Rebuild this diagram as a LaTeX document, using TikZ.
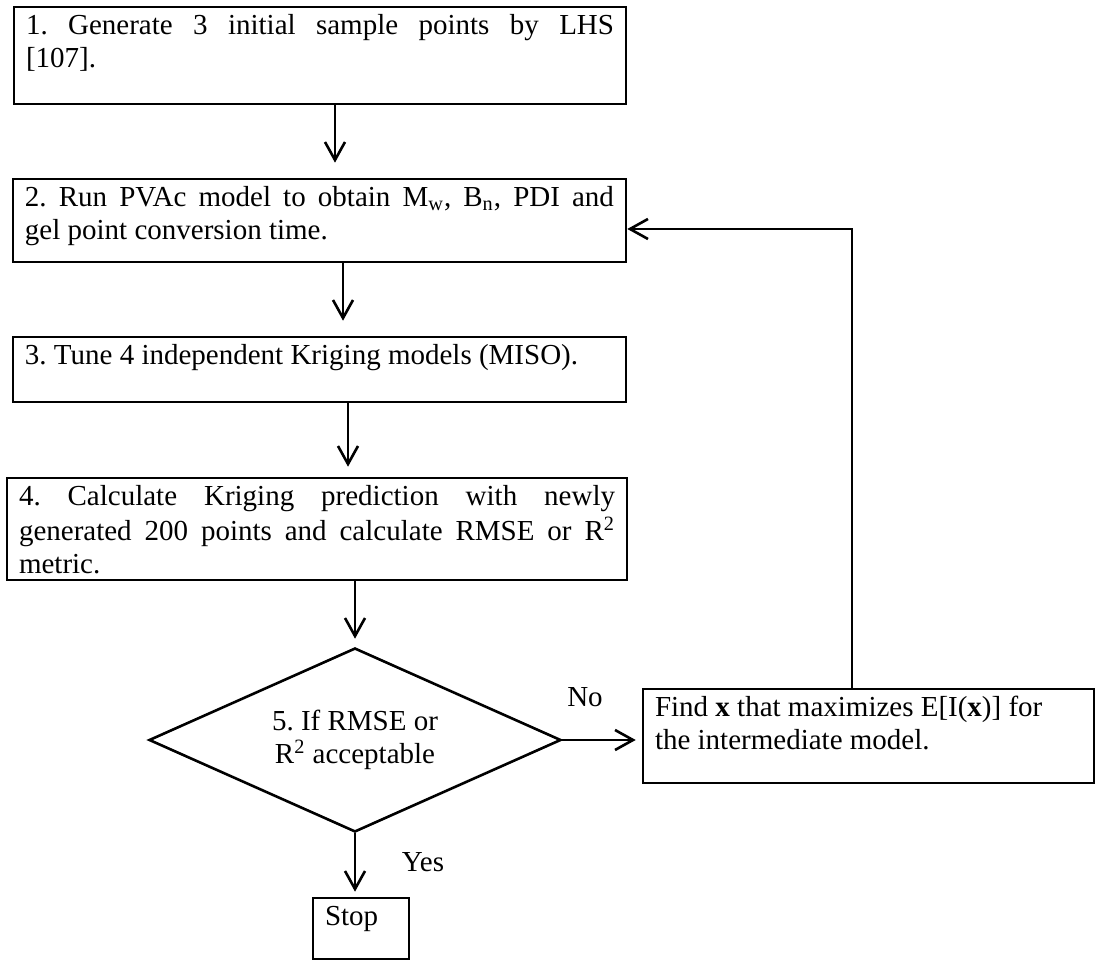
\documentclass[tikz,border=0pt]{standalone}
\usepackage{fontspec}
\setmainfont{Liberation Serif}
\usetikzlibrary{arrows.meta,shapes.geometric}
\frenchspacing
\begin{document}
\begin{tikzpicture}[x=0.5pt,y=-0.5pt,
  txt/.style={font=\fontsize{14.5pt}{16.5pt}\selectfont},
  stepbox/.style={txt,draw,line width=1.3pt,inner xsep=6pt,inner ysep=2pt},
  decision/.style={txt,draw,line width=1.3pt,diamond,aspect=2.24,
    minimum width=206pt,minimum height=92pt,inner sep=0pt,align=center},
  arr/.style={line width=1.3pt,-{Straight Barb[length=9pt,width=10pt]}},
]
\useasboundingbox (0,0) rectangle (1098,961);

% process steps
\node[stepbox] (b1) at (320,55.5) {\parbox[c][44.5pt][t]{294pt}{\strut\makebox[\linewidth][s]{1. Generate 3 initial sample points by LHS}\par [107].}};
\node[stepbox] (b2) at (319.5,220.5) {\parbox[c][37.5pt][t]{294.5pt}{\strut\makebox[\linewidth][s]{2. Run PVAc model to obtain M\textsubscript{w}, B\textsubscript{n}, PDI and}\par gel point conversion time.}};
\node[stepbox] (b3) at (319.5,369.5) {\parbox[c][28.5pt][t]{294.5pt}{\strut 3. Tune 4 independent Kriging models (MISO).}};
\node[stepbox] (b4) at (317,529) {\parbox[c][47pt][t]{298pt}{\strut\makebox[\linewidth][s]{4. Calculate Kriging prediction with newly}\par\makebox[\linewidth][s]{generated 200 points and calculate RMSE or R\textsuperscript{2}}\par metric.}};

% decision
\node[decision] (d) at (355,740) {5. If RMSE or\\R\textsuperscript{2} acceptable};

% update step and end
\node[stepbox] (rb) at (868.5,736) {\parbox[c][43pt][t]{213.5pt}{\raggedright\strut Find \textbf{x} that maximizes E[I(\textbf{x})] for\par the intermediate model.}};
\node[stepbox] (stop) at (361,928.5) {\parbox[c][26.5pt][t]{36pt}{\strut Stop}};

% branch labels
\node[txt] (no) at (585,697) {No};
\node[txt] (yes) at (423,862) {Yes};

% flow
\draw[arr,shorten >=7.5pt] ([xshift=7.5pt]b1.south) -- ([xshift=7.5pt]b1.south |- b2.north);
\draw[arr,shorten >=7.5pt] ([xshift=11.75pt]b2.south) -- ([xshift=11.75pt]b2.south |- b3.north);
\draw[arr,shorten >=5pt] ([xshift=14.25pt]b3.south) -- ([xshift=14.25pt]b3.south |- b4.north);
\draw[arr,shorten >=4pt] ([xshift=19pt]b4.south) -- (d.north);
\draw[arr,shorten >=2.5pt] (d.south) -- (d.south |- stop.north);
\draw[arr,shorten >=3pt] (d.east) -- (d.east -| rb.west);
\draw[arr] ([xshift=-8.25pt]rb.north) |- ([yshift=-4.25pt]b2.east);
\end{tikzpicture}
\end{document}
